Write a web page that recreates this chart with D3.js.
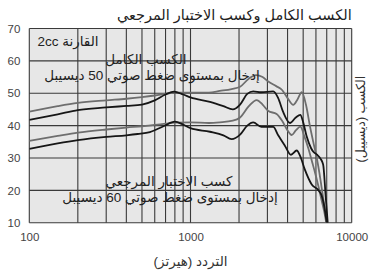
<!DOCTYPE html>
<html>
<head>
<meta charset="utf-8">
<script src="https://cdn.jsdelivr.net/npm/d3@7"></script>
<style>
  body { margin: 0; background: #fff; }
  svg { display: block; font-family: "Liberation Sans", "DejaVu Sans", sans-serif; }
</style>
</head>
<body>
<svg id="chart" width="369" height="271"></svg>
<script>
// frequency (Hz), gain (dB)
const fullGainUpper = [[100,44.3],[150,46.0],[200,47.0],[300,47.8],[400,48.3],[500,48.8],[600,49.3],[700,49.8],[800,50.2],[1000,50.2],[1300,50.2],[1520,50.7],[1800,51.3],[2030,52.0],[2300,54.5],[2550,55.6],[2800,55.0],[3040,53.6],[3400,52.2],[3700,51.0],[4000,48.5],[4340,46.4],[4600,48.0],[4900,50.3],[5200,46.5],[5500,40.0],[5800,34.5],[6070,30.0],[6300,25.5],[6500,21.0],[6750,15.5],[7000,10]];
const fullGainLower = [[100,41.8],[150,43.5],[200,44.8],[300,45.6],[400,46.1],[500,46.5],[600,47.8],[700,49.6],[790,50.5],[900,49.6],[1000,48.7],[1320,47.3],[1600,46.0],[1830,45.0],[2030,46.5],[2250,49.8],[2450,50.6],[2750,50.3],[3260,50.6],[3500,48.5],[3750,44.3],[4140,40.8],[4500,42.5],[4800,43.3],[5000,41.0],[5260,36.6],[5600,33.0],[5780,31.9],[6100,31.0],[6400,29.8],[6650,28.0],[6900,18],[7100,10]];
const refGainUpper = [[100,35.3],[150,36.8],[200,37.8],[300,38.8],[400,39.4],[500,39.8],[600,40.2],[700,40.6],[800,40.9],[1000,41.0],[1300,40.8],[1520,41.0],[1830,41.5],[2030,42.5],[2300,46.0],[2575,47.9],[2800,46.5],[3040,44.5],[3420,43.6],[3700,41.5],[4000,38.5],[4240,37.1],[4500,38.5],[4800,39.7],[5100,36.5],[5380,33.0],[5700,28.5],[5920,25.5],[6200,21.5],[6500,17.0],[6750,13.5],[6950,10]];
const refGainLower = [[100,32.8],[150,34.5],[200,35.5],[300,36.5],[400,37.0],[470,37.4],[560,38.0],[680,39.8],[800,41.2],[900,40.3],[1000,39.2],[1320,38.1],[1600,37.0],[1800,35.8],[2030,37.2],[2250,40.0],[2450,41.0],[2750,39.6],[3260,39.6],[3500,37.0],[3850,33.8],[4200,31.0],[4560,32.3],[4800,30.5],[5130,26.3],[5650,21.8],[6200,20.1],[6500,18.5],[6700,16],[7000,10]];

const yTicks = [10, 20, 30, 40, 50, 60, 70];
const xLabelTicks = [100, 1000, 10000];

const title = 'الكسب الكامل وكسب الاختبار المرجعي';
const xTitle = 'التردد (هيرتز)';
const yTitle = 'الكسب (ديسيبل)';

const width = 369, height = 271;
const margin = { top: 28.5, right: 17.3, bottom: 48.3, left: 29.3 };

const svg = d3.select('#chart');

const x = d3.scaleLog().domain([100, 10000]).range([margin.left, width - margin.right]);
const y = d3.scaleLinear().domain([10, 70]).range([height - margin.bottom, margin.top]);

// plot background
svg.append('rect')
  .attr('x', x(100)).attr('y', y(70))
  .attr('width', x(10000) - x(100)).attr('height', y(10) - y(70))
  .attr('fill', '#e7e7e7');

// grid
const grid = svg.append('g').attr('stroke', '#3a3a3a').attr('stroke-width', 1.1);
grid.selectAll('.vg').data(x.ticks()).enter().append('line')
  .attr('x1', d => x(d)).attr('x2', d => x(d))
  .attr('y1', y(70)).attr('y2', y(10));
grid.selectAll('.hg').data(yTicks).enter().append('line')
  .attr('x1', x(100)).attr('x2', x(10000))
  .attr('y1', d => y(d)).attr('y2', d => y(d));

// curves
svg.append('clipPath').attr('id', 'clip').append('rect')
  .attr('x', x(100)).attr('y', y(70))
  .attr('width', x(10000) - x(100)).attr('height', y(10) - y(70));

const line = d3.line()
  .x(d => x(d[0]))
  .y(d => y(d[1]))
  .curve(d3.curveMonotoneX);

const series = [
  { data: fullGainUpper, color: '#6e6e6e' },
  { data: refGainUpper, color: '#6e6e6e' },
  { data: fullGainLower, color: '#161616' },
  { data: refGainLower, color: '#161616' }
];

svg.append('g').attr('clip-path', 'url(#clip)')
  .selectAll('path').data(series).enter().append('path')
  .attr('d', d => line(d.data))
  .attr('fill', 'none')
  .attr('stroke', d => d.color)
  .attr('stroke-width', 1.8);

// axes
const yAxis = svg.append('g')
  .attr('transform', `translate(${x(100)},0)`)
  .call(d3.axisLeft(y).tickValues(yTicks).tickSize(0).tickPadding(9));
yAxis.select('.domain').remove();
yAxis.selectAll('text').attr('font-size', 11.5).attr('fill', '#444')
  .attr('font-family', '"Liberation Sans", sans-serif');

const xAxis = svg.append('g')
  .attr('transform', `translate(0,${y(10)})`)
  .call(d3.axisBottom(x).tickValues(xLabelTicks).tickFormat(d3.format('d')).tickSize(0).tickPadding(10));
xAxis.select('.domain').remove();
xAxis.selectAll('text').attr('font-size', 11.5).attr('fill', '#444')
  .attr('font-family', '"Liberation Sans", sans-serif');

// titles (right-to-left text)
svg.append('text')
  .attr('direction', 'rtl')
  .attr('x', x(10000)).attr('y', 20)
  .attr('text-anchor', 'start')
  .attr('font-size', 14.5).attr('fill', '#222')
  .text(title);

svg.append('text')
  .attr('direction', 'rtl')
  .attr('x', x(1000)).attr('y', 266)
  .attr('text-anchor', 'middle')
  .attr('font-size', 13.5).attr('fill', '#333')
  .text(xTitle);

svg.append('text')
  .attr('direction', 'rtl')
  .attr('transform', `translate(365,${y(42)}) rotate(-90)`)
  .attr('text-anchor', 'middle')
  .attr('font-size', 12.5).attr('fill', '#333')
  .text(yTitle);

// annotations
const notes = [
  { text: 'القارنة 2cc', x: 68, y: 46 },
  { text: 'الكسب الكامل', x: 146, y: 64 },
  { text: 'إدخال بمستوى ضغط صوتي 50 ديسيبل', x: 152, y: 80 },
  { text: 'كسب الاختبار المرجعي', x: 169, y: 186 },
  { text: 'إدخال بمستوى ضغط صوتي 60 ديسيبل', x: 170, y: 202 }
];
svg.selectAll('.note').data(notes).enter().append('text')
  .attr('direction', 'rtl')
  .attr('x', d => d.x).attr('y', d => d.y)
  .attr('text-anchor', 'middle')
  .attr('font-size', 13.5).attr('fill', '#222')
  .text(d => d.text);
</script>
</body>
</html>
